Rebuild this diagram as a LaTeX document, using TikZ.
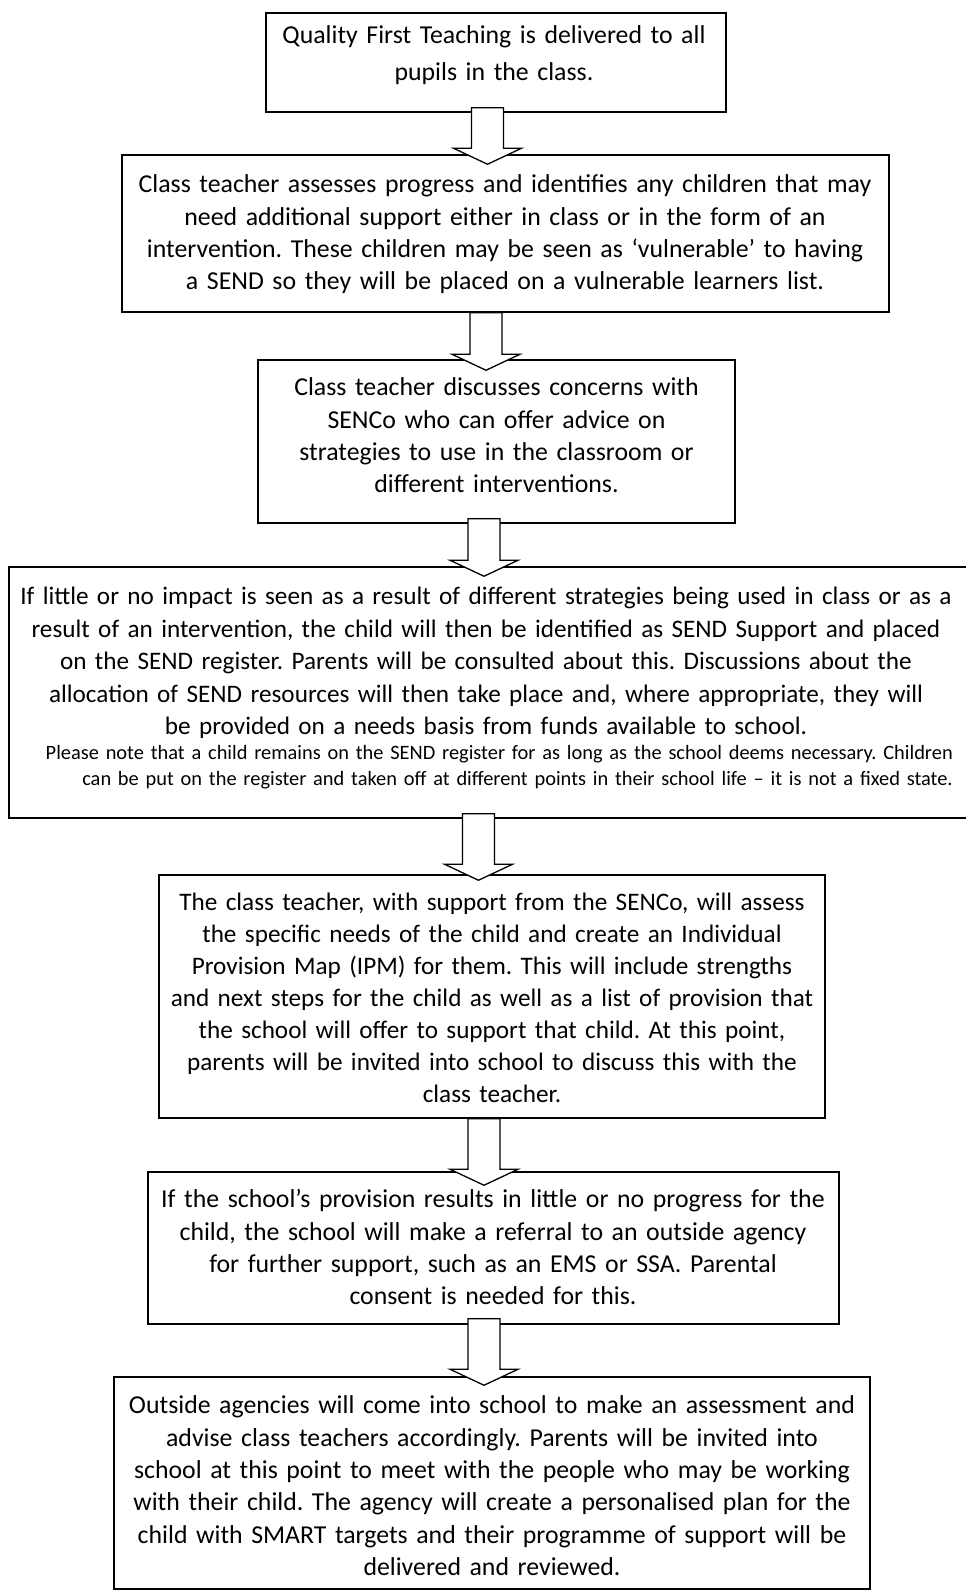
\documentclass[tikz,border=0pt]{standalone}
\usepackage{fontspec}
\setmainfont{Carlito}
\usetikzlibrary{calc}
\tikzset{
  box/.style={draw=black, line width=1.5pt, fill=white, inner sep=0pt, rectangle},
  txt/.style={inner sep=0pt, anchor=north, text width=1000pt, align=center,
    font=\frenchspacing\fontsize{25.8pt}{32.3pt}\selectfont},
  smalltxt/.style={inner sep=0pt, anchor=north east, text width=940pt, align=right,
    font=\frenchspacing\fontsize{20.4pt}{26pt}\selectfont},
  barrow/.style={draw=black, line width=1.3pt, fill=white, line join=miter}
}
\newcommand\blockarrow[2]{%
  \draw[barrow] let \p1=(#1), \p2=(#2) in
    (\x1-16pt,\y1) -- (\x1+16pt,\y1) -- (\x1+16pt,\y2+16pt) -- (\x1+34pt,\y2+16pt)
    -- (\x1,\y2) -- (\x1-34pt,\y2+16pt) -- (\x1-16pt,\y2+16pt) -- cycle;}
\begin{document}
\begin{tikzpicture}[x=1pt,y=-1pt]
\fill[white] (0,0) rectangle (966,1591);
\useasboundingbox (0,0) rectangle (966,1591);

% boxes
\node[box, minimum width=460pt, minimum height=99pt]  (b1) at (496,62.5) {};
\node[box, minimum width=767pt, minimum height=157pt] (b2) at (505.5,233.5) {};
\node[box, minimum width=477pt, minimum height=163pt] (b3) at (496.5,441.5) {};
\node[box, minimum width=971pt, minimum height=251pt] (b4) at (494.5,692.5) {};
\node[box, minimum width=666pt, minimum height=243pt] (b5) at (492,996.5) {};
\node[box, minimum width=691pt, minimum height=152pt] (b6) at (493.5,1248) {};
\node[box, minimum width=756pt, minimum height=212pt] (b7) at (492,1483) {};

% texts
\node[txt, font=\frenchspacing\fontsize{25.8pt}{37pt}\selectfont] (t1) at (494,17) {\strut Quality First Teaching is delivered to all\\ pupils in the class.};
\node[txt] (t2) at (505,170) {\strut Class teacher assesses progress and identifies any children that may\\ need additional support either in class or in the form of an\\ intervention. These children may be seen as ‘vulnerable’ to having\\ a SEND so they will be placed on a vulnerable learners list.};
\node[txt] (t3) at (496.5,373) {\strut Class teacher discusses concerns with\\ SENCo who can offer advice on\\ strategies to use in the classroom or\\ different interventions.};
\node[txt, font=\frenchspacing\fontsize{25.2pt}{32.5pt}\selectfont] (t4) at (486,582) {\strut If little or no impact is seen as a result of different strategies being used in class or as a\\ result of an intervention, the child will then be identified as SEND Support and placed\\ on the SEND register. Parents will be consulted about this. Discussions about the\\ allocation of SEND resources will then take place and, where appropriate, they will\\ be provided on a needs basis from funds available to school.};
\node[smalltxt] (t4b) at (953,741) {\strut Please note that a child remains on the SEND register for as long as the school deems necessary. Children\\ can be put on the register and taken off at different points in their school life – it is not a fixed state.};
\node[txt, font=\frenchspacing\fontsize{25.2pt}{32pt}\selectfont] (t5) at (492,888) {\strut The class teacher, with support from the SENCo, will assess\\ the specific needs of the child and create an Individual\\ Provision Map (IPM) for them. This will include strengths\\ and next steps for the child as well as a list of provision that\\ the school will offer to support that child. At this point,\\ parents will be invited into school to discuss this with the\\ class teacher.};
\node[txt] (t6) at (493,1185) {\strut If the school’s provision results in little or no progress for the\\ child, the school will make a referral to an outside agency\\ for further support, such as an EMS or SSA. Parental\\ consent is needed for this.};
\node[txt] (t7) at (492,1391) {\strut Outside agencies will come into school to make an assessment and\\ advise class teachers accordingly. Parents will be invited into\\ school at this point to meet with the people who may be working\\ with their child. The agency will create a personalised plan for the\\ child with SMART targets and their programme of support will be\\ delivered and reviewed.};

% arrow anchor points
\coordinate (a1s) at ($(b1.south)+(-8.5,-5)$);
\coordinate (a1e) at ($(a1s |- b2.north)+(0,10)$);
\coordinate (a2s) at ($(b2.south)+(-19.5,0)$);
\coordinate (a2e) at ($(a2s |- b3.north)+(0,11)$);
\coordinate (a3s) at ($(b3.south)+(-12.5,-5)$);
\coordinate (a3e) at ($(a3s |- b4.north)+(0,10)$);
\coordinate (a4s) at ($(b4.south)+(-16,-5)$);
\coordinate (a4e) at ($(a4s |- b5.north)+(0,6)$);
\coordinate (a5s) at ($(b5.south)+(-8,0)$);
\coordinate (a5e) at ($(a5s |- b6.north)+(0,14)$);
\coordinate (a6s) at ($(b6.south)+(-9.5,-6)$);
\coordinate (a6e) at ($(a6s |- b7.north)+(0,9)$);

\blockarrow{a1s}{a1e}
\blockarrow{a2s}{a2e}
\blockarrow{a3s}{a3e}
\blockarrow{a4s}{a4e}
\blockarrow{a5s}{a5e}
\blockarrow{a6s}{a6e}
\end{tikzpicture}
\end{document}
